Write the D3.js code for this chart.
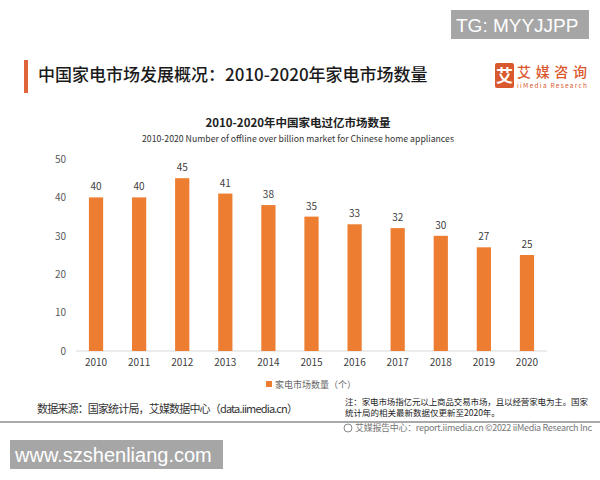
<!DOCTYPE html>
<html lang="zh">
<head>
    <meta charset="UTF-8">
    <title>2010-2020年中国家电过亿市场数量</title>
    <script src="https://d3js.org/d3.v7.min.js"></script>
    <style>
        body { margin: 0; background: #fff; }
        text { font-family: "Noto Sans CJK SC", "Noto Sans", sans-serif; }
    </style>
</head>
<body>

<script>
    // chart data
    var years = ["2010", "2011", "2012", "2013", "2014", "2015", "2016", "2017", "2018", "2019", "2020"];
    var marketCount = [40, 40, 45, 41, 38, 35, 33, 32, 30, 27, 25];
    var yTicks = [0, 10, 20, 30, 40, 50];
    var seriesName = "家电市场数量（个）";

    var width = 600, height = 480;
    var orange = "#ED7D31";

    var svg = d3.select("body").append("svg")
        .attr("width", width)
        .attr("height", height);

    // watermark box top right
    svg.append("rect")
        .attr("x", 451).attr("y", 10).attr("width", 138).attr("height", 29)
        .attr("fill", "#a6a6a6");
    svg.append("text")
        .attr("x", 456).attr("y", 32)
        .style("font-family", "'Liberation Sans', Arial, sans-serif")
        .style("font-size", "19px")
        .attr("fill", "#fff")
        .text("TG: MYYJJPP");

    // page header
    svg.append("rect")
        .attr("x", 24).attr("y", 60).attr("width", 4).attr("height", 33)
        .attr("fill", "#E0643A");
    svg.append("text")
        .attr("x", 38).attr("y", 81)
        .style("font-size", "17px")
        .style("font-weight", 500)
        .attr("fill", "#1a1a1a")
        .text("中国家电市场发展概况：2010-2020年家电市场数量");

    // logo
    svg.append("rect")
        .attr("x", 495).attr("y", 63).attr("width", 19).attr("height", 25)
        .attr("rx", 2)
        .attr("fill", "#D9582E");
    svg.append("text")
        .attr("x", 504.5).attr("y", 82)
        .attr("text-anchor", "middle")
        .style("font-size", "17px")
        .style("font-weight", 700)
        .attr("fill", "#fff")
        .text("艾");
    svg.append("text")
        .attr("x", 517).attr("y", 77)
        .attr("textLength", 70)
        .style("font-size", "14px")
        .style("font-weight", 500)
        .attr("fill", "#D9582E")
        .text("艾媒咨询");
    svg.append("text")
        .attr("x", 517).attr("y", 88)
        .attr("textLength", 70)
        .style("font-size", "6.5px")
        .attr("fill", "#D9582E")
        .text("iiMedia Research");

    // chart titles
    svg.append("text")
        .attr("x", 298).attr("y", 127)
        .attr("text-anchor", "middle")
        .style("font-size", "11.5px")
        .style("font-weight", 700)
        .attr("fill", "#222")
        .text("2010-2020年中国家电过亿市场数量");
    svg.append("text")
        .attr("x", 298).attr("y", 142)
        .attr("text-anchor", "middle")
        .attr("textLength", 312)
        .attr("lengthAdjust", "spacingAndGlyphs")
        .style("font-size", "9px")
        .attr("fill", "#333")
        .text("2010-2020 Number of offline over billion market for Chinese home appliances");

    // scales
    var x = d3.scaleBand().domain(years).range([76, 547]).paddingInner(0.67).paddingOuter(0.3);
    var y = d3.scaleLinear().domain([0, 50]).range([351, 159]);

    // axis line
    svg.append("line")
        .attr("x1", 76).attr("x2", 547)
        .attr("y1", y(0)).attr("y2", y(0))
        .attr("stroke", "#d9d9d9");

    // y axis labels
    var yAxis = svg.append("g")
        .attr("transform", "translate(66,0)")
        .call(d3.axisLeft(y).tickValues(yTicks).tickSize(0).tickPadding(0));
    yAxis.select(".domain").remove();
    yAxis.selectAll("text")
        .style("font-family", "'Noto Sans CJK SC', sans-serif")
        .style("font-size", "10px")
        .attr("fill", "#595959");

    // x axis labels
    var xAxis = svg.append("g")
        .attr("transform", "translate(0," + y(0) + ")")
        .call(d3.axisBottom(x).tickSize(0).tickPadding(8));
    xAxis.select(".domain").remove();
    xAxis.selectAll("text")
        .style("font-family", "'Noto Sans CJK SC', sans-serif")
        .style("font-size", "10px")
        .attr("fill", "#404040");

    // bars
    svg.selectAll(".bar")
        .data(marketCount)
        .enter().append("rect")
        .attr("class", "bar")
        .attr("x", (d, i) => x(years[i]))
        .attr("width", x.bandwidth())
        .attr("y", d => y(d))
        .attr("height", d => y(0) - y(d))
        .attr("fill", orange);

    // value labels
    svg.selectAll(".val")
        .data(marketCount)
        .enter().append("text")
        .attr("class", "val")
        .attr("x", (d, i) => x(years[i]) + x.bandwidth() / 2)
        .attr("y", d => y(d) - 7)
        .attr("text-anchor", "middle")
        .style("font-size", "10px")
        .attr("fill", "#404040")
        .text(d => d);

    // legend
    svg.append("rect")
        .attr("x", 266).attr("y", 381).attr("width", 6).attr("height", 6)
        .attr("fill", orange);
    svg.append("text")
        .attr("x", 275).attr("y", 387.5)
        .style("font-size", "9px")
        .attr("fill", "#666")
        .text(seriesName);

    // source and note
    svg.append("text")
        .attr("x", 37).attr("y", 413)
        .attr("textLength", 261)
        .style("font-size", "11px")
        .attr("fill", "#333")
        .text("数据来源：国家统计局，艾媒数据中心（data.iimedia.cn）");
    svg.append("text")
        .attr("x", 345).attr("y", 405)
        .attr("textLength", 243)
        .style("font-size", "8.5px")
        .attr("fill", "#222")
        .text("注：家电市场指亿元以上商品交易市场，且以经营家电为主。国家");
    svg.append("text")
        .attr("x", 345).attr("y", 416)
        .style("font-size", "8.5px")
        .attr("fill", "#222")
        .text("统计局的相关最新数据仅更新至2020年。");

    // separator line
    svg.append("line")
        .attr("x1", 0).attr("x2", 600)
        .attr("y1", 422).attr("y2", 422)
        .attr("stroke", "#8c8c8c")
        .attr("stroke-width", 1.5);

    // footer
    svg.append("circle")
        .attr("cx", 348).attr("cy", 428).attr("r", 4)
        .attr("fill", "none").attr("stroke", "#888").attr("stroke-width", 1);
    svg.append("text")
        .attr("x", 355).attr("y", 431)
        .attr("textLength", 237)
        .style("font-size", "9px")
        .attr("fill", "#777")
        .text("艾媒报告中心：report.iimedia.cn   ©2022  iiMedia Research  Inc");

    // watermark bottom left
    svg.append("rect")
        .attr("x", 10).attr("y", 440).attr("width", 213).attr("height", 29)
        .attr("fill", "#a6a6a6");
    svg.append("text")
        .attr("x", 15).attr("y", 462)
        .style("font-family", "'Liberation Sans', Arial, sans-serif")
        .style("font-size", "20px")
        .attr("fill", "#fff")
        .text("www.szshenliang.com");
</script>

</body>
</html>
